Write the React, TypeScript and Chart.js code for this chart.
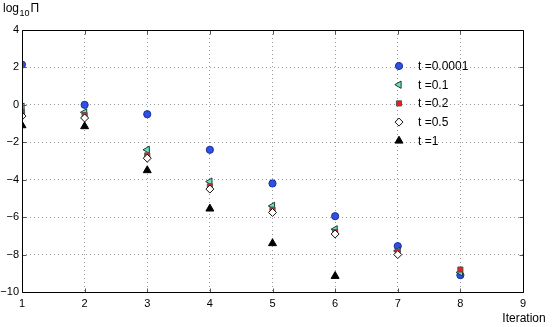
import React, { useEffect, useRef } from 'react';
import { Chart, registerables } from 'chart.js';
import { drawPoint } from 'chart.js/helpers';

Chart.register(...registerables);

const iterations = [1, 2, 3, 4, 5, 6, 7, 8];
const seriesLabels = ['t =0.0001', 't =0.1', 't =0.2', 't =0.5', 't =1'];
const t00001 = [2.15, 0.0, -0.5, -2.4, -4.2, -5.95, -7.55, -9.1];
const t01 = [-0.1, -0.4, -2.4, -4.1, -5.4, -6.65, -7.8, -8.95];
const t02 = [-0.4, -0.55, -2.7, -4.35, -5.6, -6.8, -7.85, -8.8];
const t05 = [-0.6, -0.7, -2.85, -4.5, -5.75, -6.9, -8.0, null];
const t1 = [-1.1, -1.15, -3.5, -5.55, -7.4, -9.15, null, null];
const yTickValues = [-10, -8, -6, -4, -2, 0, 2, 4];
const xTickValues = [1, 2, 3, 4, 5, 6, 7, 8, 9];

const FONT = "'Liberation Sans', Arial, Helvetica, sans-serif";

const styles = [
  { pointStyle: 'circle', rotation: 0, radius: 3.6, bg: '#2f4fe6', border: '#1b2f99' },
  { pointStyle: 'triangle', rotation: -90, radius: 4.2, bg: '#66e3c4', border: '#1f3a33' },
  { pointStyle: 'rect', rotation: 0, radius: 3.6, bg: '#ee1c1c', border: '#555555' },
  { pointStyle: 'rectRot', rotation: 0, radius: 4, bg: '#ffffff', border: '#111111' },
  { pointStyle: 'triangle', rotation: 0, radius: 4.6, bg: '#000000', border: '#000000' },
];
const seriesValues = [t00001, t01, t02, t05, t1];
const drawOrder = [5, 4, 3, 2, 1];

const fmt = (v: number) => (v < 0 ? '\u2212' + Math.abs(v) : String(v));

const decorPlugin = {
  id: 'decor',
  afterDraw(chart: any) {
    const ctx = chart.ctx as CanvasRenderingContext2D;
    const a = chart.chartArea;
    const xs = chart.scales.x;
    const ys = chart.scales.y;
    const L = Math.round(a.left) + 0.5;
    const R = Math.round(a.right) + 0.5;
    const T = Math.round(a.top) + 0.5;
    const B = Math.round(a.bottom) + 0.5;
    ctx.save();
    // inward ticks
    ctx.strokeStyle = '#555';
    ctx.lineWidth = 1;
    const tl = 4;
    ctx.beginPath();
    xTickValues.forEach((v) => {
      const px = Math.round(xs.getPixelForValue(v)) + 0.5;
      ctx.moveTo(px, B);
      ctx.lineTo(px, B - tl);
      ctx.moveTo(px, T);
      ctx.lineTo(px, T + tl);
    });
    yTickValues.forEach((v) => {
      const py = Math.round(ys.getPixelForValue(v)) + 0.5;
      ctx.moveTo(L, py);
      ctx.lineTo(L + tl, py);
      ctx.moveTo(R, py);
      ctx.lineTo(R - tl, py);
    });
    ctx.stroke();
    // box
    ctx.strokeStyle = '#000';
    ctx.beginPath();
    ctx.moveTo(L, T);
    ctx.lineTo(R, T);
    ctx.lineTo(R, B);
    ctx.lineTo(L, B);
    ctx.closePath();
    ctx.stroke();

    // legend
    const lx = 399;
    const ly0 = 66;
    const dy = 18.7;
    ctx.font = `12px ${FONT}`;
    ctx.textBaseline = 'middle';
    ctx.textAlign = 'left';
    seriesLabels.forEach((lab, i) => {
      const s = styles[i];
      const y = ly0 + i * dy;
      ctx.fillStyle = s.bg;
      ctx.strokeStyle = s.border;
      ctx.lineWidth = 1;
      drawPoint(ctx, { pointStyle: s.pointStyle as any, rotation: s.rotation, radius: s.radius, borderWidth: 1 }, lx, y);
      ctx.fillStyle = '#000';
      ctx.fillText(lab, 418, y + 0.5);
    });

    // y label log10 Pi
    ctx.fillStyle = '#000';
    ctx.textBaseline = 'alphabetic';
    ctx.font = `12px ${FONT}`;
    ctx.fillText('log', 3, 12);
    const w1 = ctx.measureText('log').width;
    ctx.font = `9px ${FONT}`;
    ctx.fillText('10', 3 + w1 + 0.5, 16);
    const w2 = ctx.measureText('10').width;
    ctx.font = `12px ${FONT}`;
    ctx.fillText('\u03A0', 3 + w1 + w2 + 1.5, 12);

    // x label
    ctx.textAlign = 'center';
    ctx.font = `12px ${FONT}`;
    ctx.fillText('Iteration', 524, 322);
    ctx.restore();
  },
};

export default function App() {
  const ref = useRef<HTMLCanvasElement | null>(null);
  useEffect(() => {
    document.body.style.margin = '0';
    const canvas = ref.current;
    if (!canvas) return;
    const chart = new Chart(canvas, {
      type: 'scatter',
      data: {
        datasets: seriesValues.map((vals, i) => ({
          label: seriesLabels[i],
          data: iterations.map((x, j) => ({ x, y: vals[j] })).filter((p) => p.y !== null) as any,
          pointStyle: styles[i].pointStyle as any,
          rotation: styles[i].rotation,
          radius: styles[i].radius,
          backgroundColor: styles[i].bg,
          borderColor: styles[i].border,
          borderWidth: 1,
          order: drawOrder[i],
        })),
      },
      options: {
        responsive: false,
        animation: false,
        devicePixelRatio: 1,
        layout: { padding: { left: 0, right: 32, top: 30, bottom: 0 } },
        plugins: { legend: { display: false }, tooltip: { enabled: false } },
        scales: {
          x: {
            type: 'linear',
            min: 1,
            max: 9,
            afterFit: (s: any) => {
              s.height = 35;
            },
            afterBuildTicks: (s: any) => {
              s.ticks = xTickValues.map((v) => ({ value: v }));
            },
            ticks: {
              padding: 5,
              color: '#000',
              font: { family: FONT, size: 11 },
              maxRotation: 0,
              autoSkip: false,
              callback: (v: any) => fmt(Number(v)),
            },
            grid: { drawTicks: false, color: '#9a9a9a', lineWidth: 1 },
            border: { display: false, dash: [1, 3] },
          },
          y: {
            type: 'linear',
            min: -10,
            max: 4,
            afterFit: (s: any) => {
              s.width = 22;
            },
            afterBuildTicks: (s: any) => {
              s.ticks = yTickValues.map((v) => ({ value: v }));
            },
            ticks: {
              padding: 3,
              color: '#000',
              font: { family: FONT, size: 11 },
              autoSkip: false,
              callback: (v: any) => fmt(Number(v)),
            },
            grid: { drawTicks: false, color: '#9a9a9a', lineWidth: 1 },
            border: { display: false, dash: [1, 3] },
          },
        },
      },
      plugins: [decorPlugin],
    });
    return () => chart.destroy();
  }, []);
  return (
    <div style={{ position: 'absolute', left: 0, top: 0, width: 555, height: 327 }}>
      <canvas ref={ref} width={555} height={327} style={{ display: 'block' }} />
    </div>
  );
}
